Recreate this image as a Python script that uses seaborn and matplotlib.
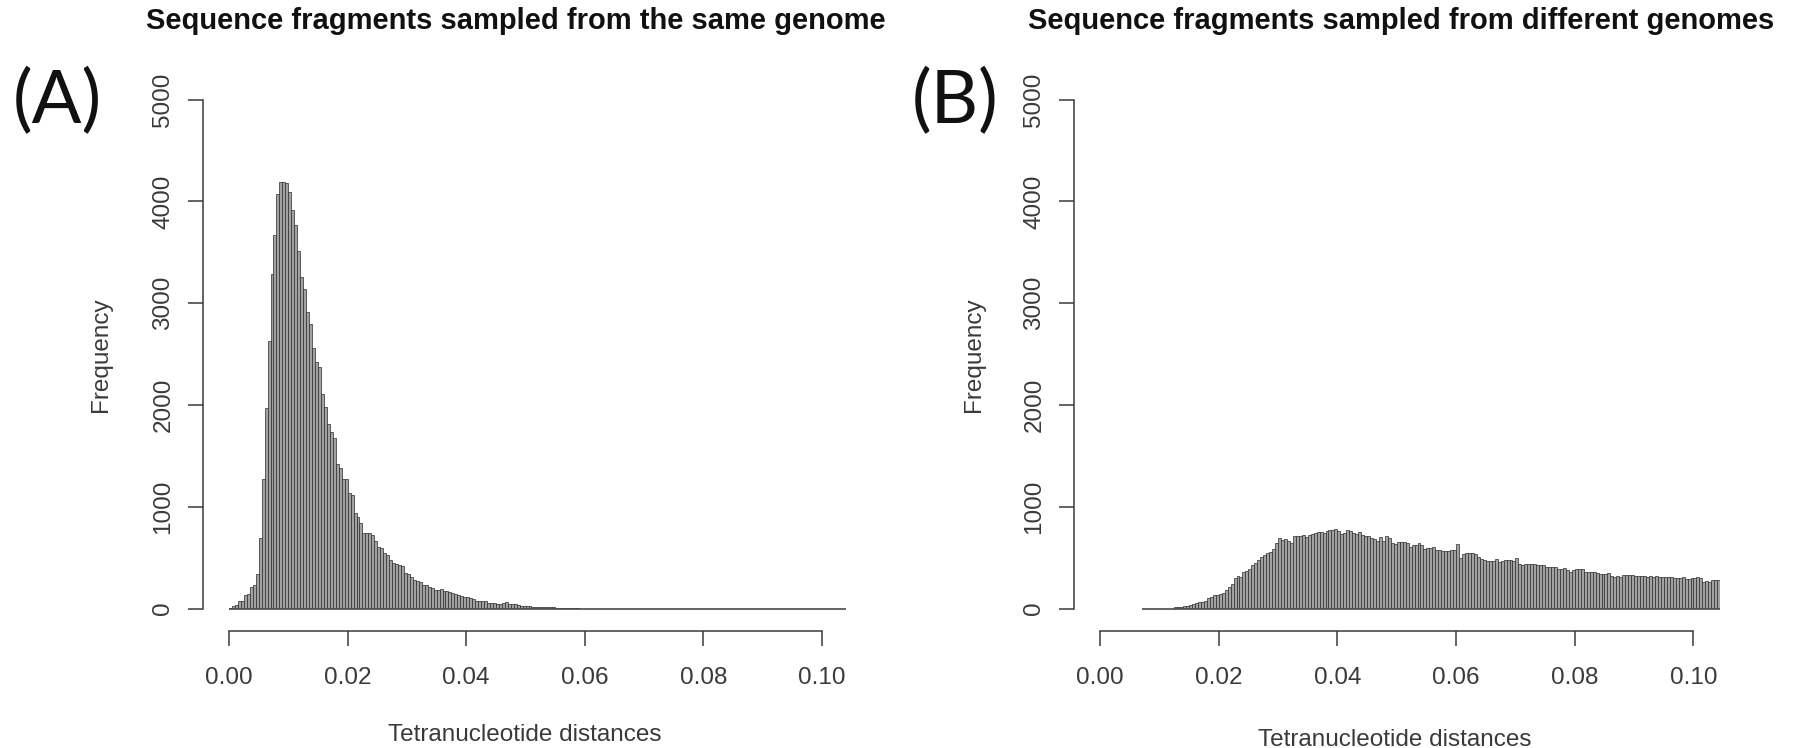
import numpy as np
import pandas as pd
import matplotlib
matplotlib.use("Agg")
import matplotlib.pyplot as plt
import seaborn as sns

# histogram bin width (both panels)
bin_w = 0.0005

# (A) same genome: counts per bin, first bin starts at 0.000
same_counts = [
    10, 30, 35, 70, 75, 135, 140, 215, 230, 340,
    690, 1270, 1970, 2630, 3290, 3670, 4070, 4190, 4190, 4180,
    4090, 3920, 3770, 3510, 3260, 3140, 2910, 2800, 2560, 2420,
    2370, 2110, 1980, 1810, 1740, 1680, 1420, 1380, 1270, 1270,
    1140, 1120, 940, 900, 845, 740, 740, 740, 725, 660,
    610, 595, 545, 530, 480, 445, 440, 430, 415, 350,
    340, 315, 280, 275, 265, 235, 235, 215, 200, 185,
    185, 190, 175, 170, 160, 155, 140, 130, 125, 118,
    112, 100, 90, 75, 75, 78, 70, 52, 52, 52,
    50, 48, 55, 60, 45, 50, 42, 40, 30, 28,
    25, 22, 20, 18, 16, 15, 14, 13, 12, 11,
    10, 10, 9, 8, 8, 7, 6, 5,
]
same_first = 0.0
same_range = (0.0, 0.104)

# (B) different genomes: counts per bin, first non-empty bin starts at 0.0125
diff_counts = [
    13, 13, 20, 26, 30, 33, 46, 52, 62, 66,
    79, 102, 118, 130, 136, 144, 151, 180, 215, 243,
    298, 325, 308, 355, 374, 387, 430, 446, 479, 505,
    528, 545, 555, 585, 640, 692, 676, 682, 660, 643,
    709, 715, 715, 725, 702, 725, 735, 740, 748, 748,
    741, 760, 768, 770, 781, 758, 735, 740, 768, 758,
    745, 735, 755, 720, 715, 709, 692, 680, 669, 702,
    669, 709, 692, 640, 636, 659, 659, 655, 649, 610,
    623, 625, 643, 620, 590, 595, 600, 605, 580, 575,
    570, 565, 568, 572, 575, 636, 495, 540, 548, 550,
    545, 538, 505, 490, 475, 472, 465, 472, 485, 462,
    470, 478, 478, 475, 470, 495, 440, 432, 436, 440,
    436, 438, 432, 430, 428, 407, 410, 405, 407, 390,
    387, 397, 375, 364, 380, 387, 385, 387, 361, 360,
    362, 358, 345, 341, 338, 343, 354, 320, 315, 318,
    315, 331, 328, 332, 329, 321, 320, 323, 319, 315,
    317, 314, 316, 313, 315, 308, 308, 306, 300, 298,
    300, 308, 295, 289, 298, 300, 308, 300, 266, 268,
    264, 280, 282, 282,
]
diff_first = 0.0125
diff_range = (0.007, 0.1045)

titles = ["Sequence fragments sampled from the same genome",
          "Sequence fragments sampled from different genomes"]
tags = ["(A)", "(B)"]
xlabel = "Tetranucleotide distances"
ylabel = "Frequency"
xticks = [0.00, 0.02, 0.04, 0.06, 0.08, 0.10]
yticks = [0, 1000, 2000, 3000, 4000, 5000]

W, H = 1797, 748
sns.set_style("white")
plt.rcParams["font.family"] = ["Liberation Sans", "DejaVu Sans"]

fig = plt.figure(figsize=(W / 100, H / 100), dpi=100)

ink = "#3a3a3a"
bar_fill = "#a2a2a2"
bar_edge = "#2c2c2c"


def px(x, y):
    return x / W, 1 - y / H


def hist_panel(rect, counts, first, rng, xmax):
    ax = fig.add_axes(rect)
    df = pd.DataFrame({
        "dist": first + bin_w * (np.arange(len(counts)) + 0.5),
        "n": counts,
    })
    nb = int(round((rng[1] - rng[0]) / bin_w))
    edges = np.linspace(rng[0], rng[1], nb + 1).tolist()
    sns.histplot(data=df, x="dist", weights="n", bins=edges, ax=ax,
                 color=bar_fill, edgecolor=bar_edge, linewidth=0.5, alpha=1)
    # empty bins show as a flat line on zero, like R's hist()
    ax.hlines(0, rng[0], rng[1], color="#4a4a4a", linewidth=1.2,
              clip_on=False, zorder=3)
    ax.set_xlim(0, xmax)
    ax.set_ylim(0, 5000)
    for s in ["top", "right"]:
        ax.spines[s].set_visible(False)
    ax.spines["left"].set_position(("outward", 18.5))
    ax.spines["bottom"].set_position(("outward", 16))
    ax.spines["left"].set_bounds(0, 5000)
    ax.spines["bottom"].set_bounds(0, 0.10)
    for s in ["left", "bottom"]:
        ax.spines[s].set_color(ink)
        ax.spines[s].set_linewidth(1.1)
    ax.set_xticks(xticks)
    ax.set_xticklabels(["%.2f" % t for t in xticks])
    ax.set_yticks(yticks)
    ax.set_yticklabels([str(t) for t in yticks], rotation=90, va="center")
    ax.tick_params(axis="both", bottom=True, left=True, direction="out",
                   length=10.8, width=1.1, color=ink,
                   labelsize=17.5, labelcolor=ink)
    ax.tick_params(axis="x", pad=15)
    ax.tick_params(axis="y", pad=10)
    ax.set_xlabel("")
    ax.set_ylabel("")
    return ax


ax_a = hist_panel([229 / W, (H - 608.6) / H, 616.8 / W, 508.9 / H],
                  same_counts, same_first, same_range, 0.104)
ax_b = hist_panel([1100 / W, (H - 608.6) / H, 620.2 / W, 508.9 / H],
                  diff_counts, diff_first, diff_range, 0.1045)

# titles
fig.text(*px(516, 21), titles[0], ha="center", va="center",
         fontsize=21, fontweight="bold", color="#111111")
fig.text(*px(1401, 21), titles[1], ha="center", va="center",
         fontsize=21, fontweight="bold", color="#111111")

# panel tags
fig.text(*px(57, 102), tags[0], ha="center", va="center",
         fontsize=53, family=["Lato", "DejaVu Sans"], color="#111111")
fig.text(*px(955, 102), tags[1], ha="center", va="center",
         fontsize=53, family=["Lato", "DejaVu Sans"], color="#111111")

# axis labels
fig.text(*px(101, 355), ylabel, rotation=90, ha="center", va="center",
         fontsize=17.5, color=ink)
fig.text(*px(974, 355), ylabel, rotation=90, ha="center", va="center",
         fontsize=17.5, color=ink)
fig.text(*px(525, 735), xlabel, ha="center", va="center",
         fontsize=17.5, color=ink)
fig.text(*px(1395, 729), xlabel, ha="center", va="top",
         fontsize=17.5, color=ink)

fig.savefig("out.png", dpi=100)
